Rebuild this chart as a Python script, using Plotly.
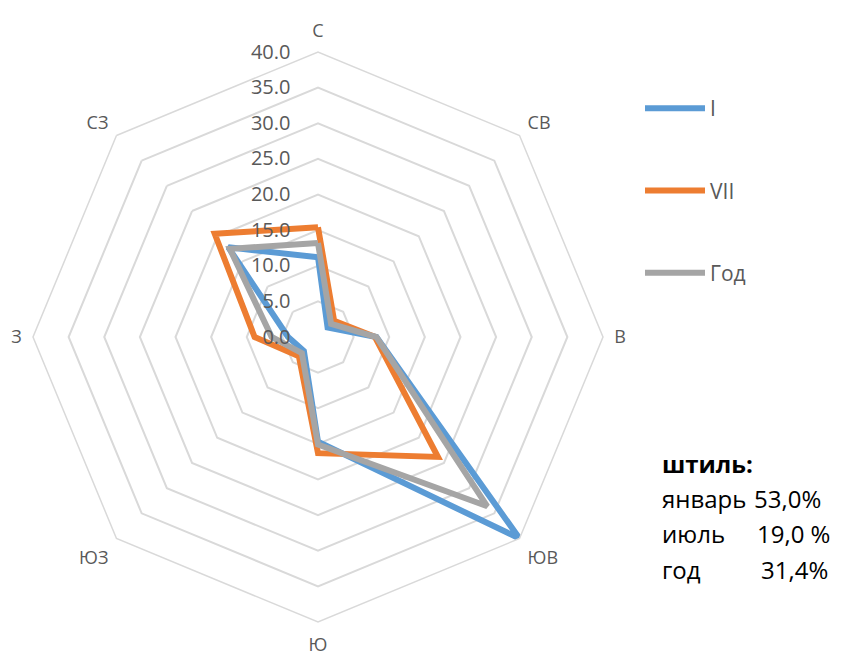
import plotly.graph_objects as go

directions = ["С", "СВ", "В", "ЮВ", "Ю", "ЮЗ", "З", "СЗ"]
jan = [11.2, 1.9, 8.2, 40.0, 14.7, 2.8, 4.2, 17.8]
jul = [15.4, 3.2, 8.0, 23.8, 16.3, 3.8, 8.9, 20.5]
year = [13.2, 2.6, 8.2, 33.6, 15.1, 3.2, 6.5, 17.5]
series_names = ["I", "VII", "Год"]
colors = ["#5B9BD5", "#ED7D31", "#A5A5A5"]

calm_title = "штиль:"
calm_labels = ["январь", "июль", "год"]
calm_values = ["53,0%", "19,0 %", "31,4%"]

# page body has an 8px margin -> work in screen pixels and convert
OFF = 8
W, H = 843 - OFF, 656 - OFF
cx, cy, R = 318, 337, 285


def px(x):
    return (x - OFF) / W


def py(y):
    return 1 - (y - OFF) / H


fig = go.Figure()
for name, vals, col in zip(series_names, [jan, jul, year], colors):
    fig.add_trace(go.Scatterpolar(
        r=vals + vals[:1], theta=directions + directions[:1],
        mode="lines", name=name, legendgroup=name,
        line=dict(color=col, width=6, shape="linear"),
    ))

font_main = "'Open Sans', sans-serif"
fig.update_layout(
    width=W, height=H,
    margin=dict(l=0, r=0, t=0, b=0),
    paper_bgcolor="white", plot_bgcolor="white",
    font=dict(family=font_main, color="#595959"),
    polar=dict(
        domain=dict(x=[px(cx - R), px(cx + R)], y=[py(cy + R), py(cy - R)]),
        gridshape="linear",
        bgcolor="white",
        angularaxis=dict(
            direction="clockwise", rotation=90,
            showgrid=False, showline=True, linecolor="#D9D9D9", linewidth=1.5,
            ticks="outside", ticklen=7, tickcolor="rgba(0,0,0,0)",
            tickfont=dict(size=18, color="#595959"),
        ),
        radialaxis=dict(
            range=[0, 40], dtick=5, tick0=0, tickformat=".1f",
            angle=90, tickangle=90, side="counterclockwise",
            showline=False, ticks="outside", ticklen=20, tickcolor="rgba(0,0,0,0)",
            gridcolor="#D9D9D9", gridwidth=1.5,
            tickfont=dict(size=20, color="#595959"),
        ),
    ),
    legend=dict(
        x=px(640), y=py(88), xanchor="left", yanchor="top",
        traceorder="grouped", tracegroupgap=52, itemwidth=60,
        font=dict(size=21, color="#595959"),
        bgcolor="rgba(0,0,0,0)",
    ),
    showlegend=True,
)

ann_font = dict(family="'Open Sans', sans-serif", size=24, color="black")
fig.add_annotation(x=px(660), y=py(463), xref="paper", yref="paper",
                   text="<b>" + calm_title + "</b>", showarrow=False,
                   xanchor="left", yanchor="middle", font=ann_font)
rows_y = [498, 533, 569]
vals_x = [752, 755, 759]
for lab, val, yy, vx in zip(calm_labels, calm_values, rows_y, vals_x):
    fig.add_annotation(x=px(660), y=py(yy), xref="paper", yref="paper",
                       text=lab, showarrow=False, xanchor="left", yanchor="middle", font=ann_font)
    fig.add_annotation(x=px(vx), y=py(yy), xref="paper", yref="paper",
                       text=val, showarrow=False, xanchor="left", yanchor="middle", font=ann_font)

fig.write_html("out.html")
